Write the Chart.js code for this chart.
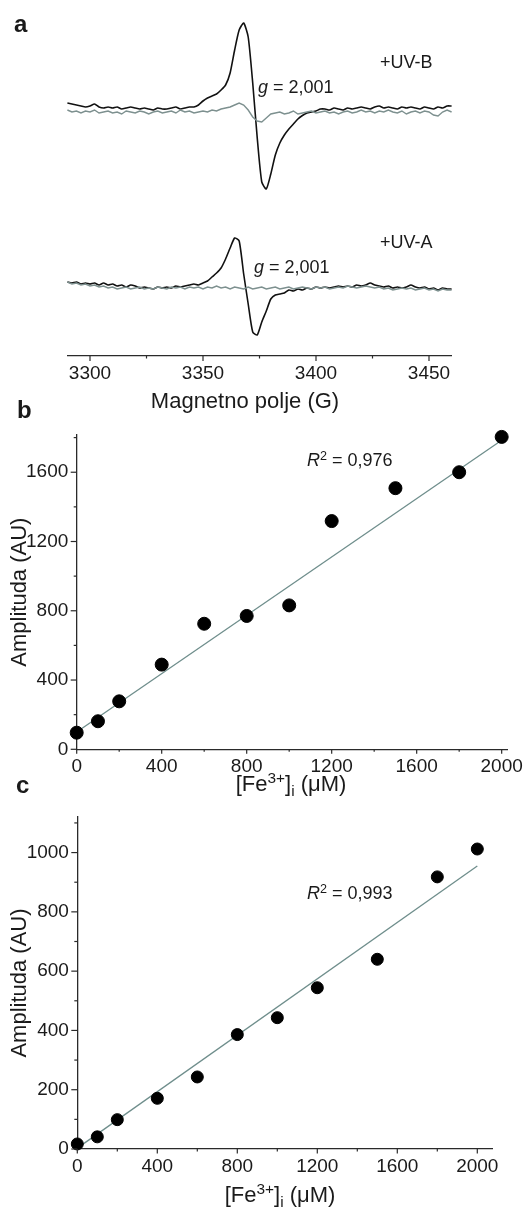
<!DOCTYPE html>
<html><head><meta charset="utf-8">
<script src="https://cdn.jsdelivr.net/npm/chart.js@4.4.1/dist/chart.umd.min.js"></script>
<style>
html,body{margin:0;padding:0;background:#fff;}
body{width:524px;height:1209px;position:relative;overflow:hidden;font-family:"Liberation Sans",Arial,Helvetica,sans-serif;color:#1a1a1a;}
.cv{position:absolute;left:0;}
.t{position:absolute;line-height:1;white-space:nowrap;}
.lbl{font-weight:bold;font-size:24px;}
.ann{font-size:18px;}
.ttl{font-size:22px;}
sup{font-size:0.7em;vertical-align:0.5em;line-height:0;}
sub{font-size:0.7em;vertical-align:-0.35em;line-height:0;}
</style></head><body>
<div class="cv" style="top:0;width:524px;height:420px"><canvas id="ca" width="524" height="420" style="width:524px;height:420px"></canvas></div>
<div class="cv" style="top:420px;width:524px;height:390px"><canvas id="cb" width="524" height="390" style="width:524px;height:390px"></canvas></div>
<div class="cv" style="top:810px;width:524px;height:399px"><canvas id="cc" width="524" height="399" style="width:524px;height:399px"></canvas></div>

<div class="t lbl" style="left:14px;top:12px">a</div>
<div class="t ann" style="left:380px;top:53px">+UV-B</div>
<div class="t ann" style="left:258px;top:78px"><i>g</i> = 2,001</div>
<div class="t ann" style="left:380px;top:233px">+UV-A</div>
<div class="t ann" style="left:254px;top:258px"><i>g</i> = 2,001</div>
<div class="t ttl" style="left:245px;top:390px;transform:translateX(-50%)">Magnetno polje (G)</div>
<div class="t lbl" style="left:17px;top:398px">b</div>
<div class="t ann" style="left:307px;top:451px"><i>R</i><sup>2</sup> = 0,976</div>
<div class="t ttl" style="left:291px;top:773px;transform:translateX(-50%)">[Fe<sup>3+</sup>]<sub>i</sub> (μM)</div>
<div class="t lbl" style="left:16px;top:773px">c</div>
<div class="t ann" style="left:307px;top:884px"><i>R</i><sup>2</sup> = 0,993</div>
<div class="t ttl" style="left:280px;top:1184px;transform:translateX(-50%)">[Fe<sup>3+</sup>]<sub>i</sub> (μM)</div>

<script>
// ---------- Panel a: EPR spectra (signal in arbitrary units, relative to each baseline) ----------
const fieldG = [
  3290,3292,3294,3296,3298,3300,3302,3304,3306,3308,
  3310,3312,3314,3316,3318,3320,3322,3324,3326,3328,
  3330,3332,3334,3336,3338,3340,3342,3344,3346,3348,
  3350,3352,3354,3356,3358,3360,3362,3364,3366,3368,
  3370,3372,3374,3376,3378,3380,3382,3384,3386,3388,
  3390,3392,3394,3396,3398,3400,3402,3404,3406,3408,
  3410,3412,3414,3416,3418,3420,3422,3424,3426,3428,
  3430,3432,3434,3436,3438,3440,3442,3444,3446,3448,
  3450,3452,3454,3456,3458,3460];
const uvbIrradiated = [
  5,4,3,2,1,2,4,1,0,1,
  0,1,-1,0,1,0,-1,0,-1,-2,
  0,-1,-1,0,1,-1,0,1,1,3,
  7,10,12,14,18,23,35,58,78,85,
  71,25,-30,-74,-81,-66,-47,-35,-27,-21,
  -16,-11,-7.5,-5,-4,-3,-1,-1,-2,0,
  -1,-2,0,-1,0,1,0,-1,1,2,
  0,1,0,-1,1,0,1,0,-1,1,
  0,-1,1,0,2,2];
const uvbControl = [
  -2,-4,-3,-5,-3,-4,-2,-5,-4,-3,
  -5,-4,-6,-3,-4,-5,-3,-4,-6,-4,
  -3,-5,-4,-3,-5,-2,-4,-3,-5,-4,
  -3,-4,-2,-3,-1,0,1,3,5,3,
  -2,-9,-13,-14,-10,-6,-5,-4,-6,-5,
  -3,-6,-5,-4,-3,-5,-4,-3,-5,-4,
  -6,-4,-3,-5,-4,-2,-4,-3,-5,-3,
  -4,-2,-4,-5,-3,-6,-4,-3,-5,-3,
  -4,-7,-8,-4,-2,-4];
const uvaIrradiated = [
  4,3,4,2,3,2,3,1,3,1,
  2,0,1,-1,1,0,-2,-1,-2,-3,
  -1,-2,-1,-2,0,-1,0,1,2,1,
  3,5,9,13,18,27,38,48,45,12,
  -18,-46,-49,-36,-25,-13,-9,-8,-7,-4,
  -5,-3,-4,-2,-3,-1,-2,-1,-2,-1,
  0,-1,0,-1,1,0,1,3,1,0,
  -1,0,-2,-1,-2,-1,1,-1,-2,-1,
  -3,-2,-4,-2,-3,-3];
const uvaControl = [
  4,2,3,1,2,0,1,-1,0,-2,
  -1,-3,-2,-1,-3,-2,-1,-3,-2,-3,
  -1,-2,-3,-1,-2,-1,-3,-1,-2,-1,
  -3,-1,-2,0,-2,-1,-3,-1,-2,-3,
  -1,-3,-2,-1,-3,-2,-1,-3,-2,-1,
  -3,-2,-1,-2,-3,-1,-2,-1,-3,-2,
  -1,-2,0,-1,-2,-1,0,-1,-2,-1,
  -3,-2,-4,-3,-2,-3,-2,-4,-3,-2,
  -4,-3,-5,-3,-4,-4];
const fieldMajorTicks = [3300,3350,3400,3450];
const fieldMinorTicks = [3325,3375,3425];

// ---------- Panel b ----------
const concB = [0,100,200,400,600,800,1000,1200,1500,1800,2000];
const ampB  = [96,162,277,489,725,770,831,1318,1508,1600,1804];
const fitBx = [0,2000];
const fitBy = [100,1785];
const bXMajor = [0,400,800,1200,1600,2000], bXMinor = [200,600,1000,1400,1800];
const bYMajor = [0,400,800,1200,1600], bYMinor = [200,600,1000,1400,1800];

// ---------- Panel c ----------
const concC = [0,100,200,400,600,800,1000,1200,1500,1800,2000];
const ampC  = [17,41,99,171,243,386,443,544,640,918,1012];
const fitCx = [0,2000];
const fitCy = [3,955];
const cXMajor = [0,400,800,1200,1600,2000], cXMinor = [200,600,1000,1400,1800];
const cYMajor = [0,200,400,600,800,1000], cYMinor = [100,300,500,700,900,1100];

// ---------- styling / layout ----------
const FONT = '"Liberation Sans", Arial, Helvetica, sans-serif';
const INK = '#1a1a1a';
const BLACK_TRACE = '#111111', GRAY_TRACE = '#7d908f', FIT = '#6f8e8c';
const UVB_OFFSET = 248, UVA_OFFSET = 70;
Chart.defaults.font.family = FONT;
Chart.defaults.color = INK;
Chart.defaults.animation = false;

const tickMarks = {
  id: 'tickMarks',
  afterDraw(chart, args, opts) {
    const ctx = chart.ctx;
    ctx.save();
    ctx.strokeStyle = '#2a2a2a'; ctx.lineWidth = 1.2;
    for (const [id, spec] of Object.entries(opts.axes || {})) {
      const s = chart.scales[id];
      const draw = (vals, len) => vals.forEach(v => {
        const p = s.getPixelForValue(v);
        ctx.beginPath();
        if (s.isHorizontal()) { ctx.moveTo(p, s.top); ctx.lineTo(p, s.top + len); }
        else { ctx.moveTo(s.right, p); ctx.lineTo(s.right - len, p); }
        ctx.stroke();
      });
      draw(spec.major, spec.majorLen); draw(spec.minor, spec.minorLen);
    }
    ctx.restore();
  }
};

function xs(vals, ys) { return vals.map((v, i) => ({x: v, y: ys[i]})); }
function shifted(ys, off) { return fieldG.map((g, i) => ({x: g, y: ys[i] + off})); }
function fixW(w) { return s => { s.width = w; s.paddingTop = 0; s.paddingBottom = 0; }; }
function fixH(h) { return s => { s.height = h; s.paddingLeft = 0; s.paddingRight = 0; }; }
function setTicks(vals) { return s => { s.ticks = vals.map(v => ({value: v})); }; }
const plain = v => String(v);
const border = {display: true, color: '#2a2a2a', width: 1.3};

// Panel a
new Chart(document.getElementById('ca'), {
  type: 'line',
  data: { datasets: [
    {label: 'UV-B kontrola', data: shifted(uvbControl, UVB_OFFSET), borderColor: GRAY_TRACE, borderWidth: 1.4, tension: 0},
    {label: '+UV-B', data: shifted(uvbIrradiated, UVB_OFFSET), borderColor: BLACK_TRACE, borderWidth: 1.6, tension: 0.2},
    {label: 'UV-A kontrola', data: shifted(uvaControl, UVA_OFFSET), borderColor: GRAY_TRACE, borderWidth: 1.4, tension: 0},
    {label: '+UV-A', data: shifted(uvaIrradiated, UVA_OFFSET), borderColor: BLACK_TRACE, borderWidth: 1.6, tension: 0.2}
  ].map(d => Object.assign(d, {pointRadius: 0, fill: false, clip: false})) },
  options: {
    responsive: false, devicePixelRatio: 1,
    layout: {padding: {left: 67.4, right: 72.4, top: 10, bottom: 0}},
    plugins: {legend: {display: false}, tooltip: {enabled: false},
      tickMarks: {axes: {x: {major: fieldMajorTicks, minor: fieldMinorTicks, majorLen: 5, minorLen: 2.5}}}},
    scales: {
      x: {type: 'linear', min: 3290, max: 3460, afterFit: fixH(64), afterBuildTicks: setTicks(fieldMajorTicks),
          grid: {display: false, drawTicks: false}, border,
          ticks: {autoSkip: false, padding: 6, font: {size: 19}, color: INK, callback: plain}},
      y: {display: false, min: 0, max: 346}
    }
  },
  plugins: [tickMarks]
});

function scatterPanel(id, conc, amp, fx, fy, xr, yr, xTicks, yTicks, pr, xH, yW, pad) {
  return new Chart(document.getElementById(id), {
    type: 'scatter',
    data: { datasets: [
      {label: 'Amplituda', data: xs(conc, amp), backgroundColor: '#000', borderColor: '#000', pointRadius: pr, pointHoverRadius: pr, order: 0, clip: false},
      {label: 'Linearna regresija', data: xs(fx, fy), showLine: true, pointRadius: 0, borderColor: FIT, borderWidth: 1.3, order: 1, clip: false}
    ]},
    options: {
      responsive: false, devicePixelRatio: 1,
      layout: {padding: pad},
      plugins: {legend: {display: false}, tooltip: {enabled: false},
        tickMarks: {axes: {
          x: {major: xTicks.major, minor: xTicks.minor, majorLen: 4.5, minorLen: 2.5},
          y: {major: yTicks.major, minor: yTicks.minor, majorLen: 6, minorLen: 3}}}},
      scales: {
        x: {type: 'linear', min: xr[0], max: xr[1], afterFit: fixH(xH), afterBuildTicks: setTicks(xTicks.major),
            grid: {display: false, drawTicks: false}, border,
            ticks: {autoSkip: false, padding: 6, font: {size: 19}, color: INK, callback: plain}},
        y: {type: 'linear', min: yr[0], max: yr[1], afterFit: fixW(yW), afterBuildTicks: setTicks(yTicks.major),
            grid: {display: false, drawTicks: false}, border,
            title: {display: true, text: 'Amplituda (AU)', font: {size: 22}, color: INK, padding: {top: 7, bottom: 0}},
            ticks: {autoSkip: false, padding: 8.4, font: {size: 19}, color: INK, callback: plain}}
      }
    },
    plugins: [tickMarks]
  });
}

scatterPanel('cb', concB, ampB, fitBx, fitBy, [0, 2026], [0, 1815],
  {major: bXMajor, minor: bXMinor}, {major: bYMajor, minor: bYMinor},
  6.5, 60.7, 76.7, {left: 0, right: 16.8, top: 15, bottom: 0});

scatterPanel('cc', concC, ampC, fitCx, fitCy, [0, 2077], [0, 1120],
  {major: cXMajor, minor: cXMinor}, {major: cYMajor, minor: cYMinor},
  6, 60, 77.3, {left: 0, right: 31.3, top: 3, bottom: 0});
</script>
</body></html>
